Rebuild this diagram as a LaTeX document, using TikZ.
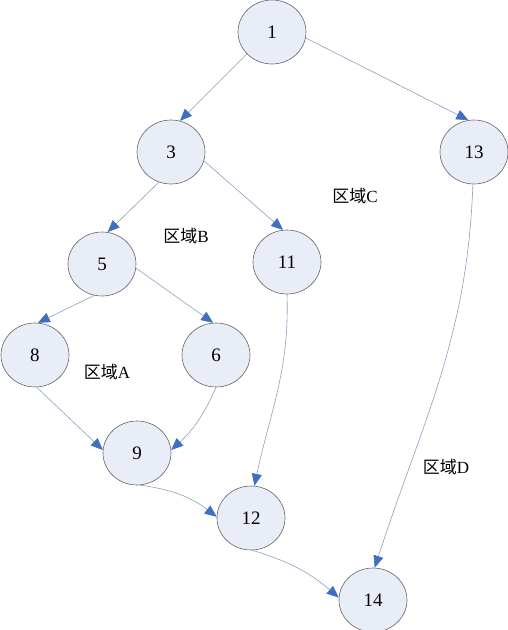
\documentclass[tikz,border=0pt]{standalone}
\usepackage{fontspec}
\setmainfont{Liberation Serif}
\newfontfamily\cjk{Noto Sans CJK SC}
\usetikzlibrary{shapes.geometric,arrows.meta}

\definecolor{nodefill}{RGB}{232,237,247}
\definecolor{nodeline}{RGB}{100,100,100}
\definecolor{edgeline}{RGB}{140,160,190}
\definecolor{tipblue}{RGB}{63,111,192}

\tikzset{
	vertex/.style={ellipse, draw=nodeline, fill=nodefill, line width=0.6pt, minimum width=68pt, minimum height=64pt, inner sep=0pt, font=\fontsize{19}{22}\selectfont},
	edge/.style={draw=edgeline, line width=0.6pt, -{Triangle[length=12pt,width=10pt,color=tipblue,fill=tipblue]}},
	region/.style={font=\fontsize{17}{20}\selectfont}
}

\begin{document}
\begin{tikzpicture}[x=1pt, y=-1pt]
		\useasboundingbox (0, 0) rectangle (507, 630);

		% vertices of the flow graph
		\node [vertex] (n1) at (272, 32) {1};
		\node [vertex] (n3) at (171, 152) {3};
		\node [vertex] (n13) at (474, 152) {13};
		\node [vertex] (n5) at (102, 264) {5};
		\node [vertex] (n11) at (287, 262) {11};
		\node [vertex] (n8) at (35, 355) {8};
		\node [vertex] (n6) at (216, 355) {6};
		\node [vertex] (n9) at (137, 453) {9};
		\node [vertex] (n12) at (251, 518) {12};
		\node [vertex] (n14) at (373, 600) {14};

		% region labels
		\node [region] (rA) at (107, 372) {{\cjk 区域}A};
		\node [region] (rB) at (186, 236) {{\cjk 区域}B};
		\node [region] (rC) at (355, 196) {{\cjk 区域}C};
		\node [region] (rD) at (446, 467) {{\cjk 区域}D};

		% straight edges
		\draw [edge] (n1.221) -- (n3.74);
		\draw [edge] (n1.350) -- (n13.100);
		\draw [edge] (n3.248) -- (n5.80);
		\draw [edge] (n3.345) -- (n11.97);
		\draw [edge] (n5.256) -- (n8.85);
		\draw [edge] (n5.353) -- (n6.95);
		\draw [edge] (n8.273) -- (n9.175);

		% curved edges
		\draw [edge] (n6.270) to [bend left=12] (n9.5);
		\draw [edge] (n9.275) to [bend left=15] (n12.178);
		\draw [edge] (n11.270) to [out=-88, in=78] (n12.84);
		\draw [edge] (n13.268) to [out=-92, in=72] (n14.87);
		\draw [edge] (n12.272) to [bend left=12] (n14.176);
	\end{tikzpicture}
\end{document}
